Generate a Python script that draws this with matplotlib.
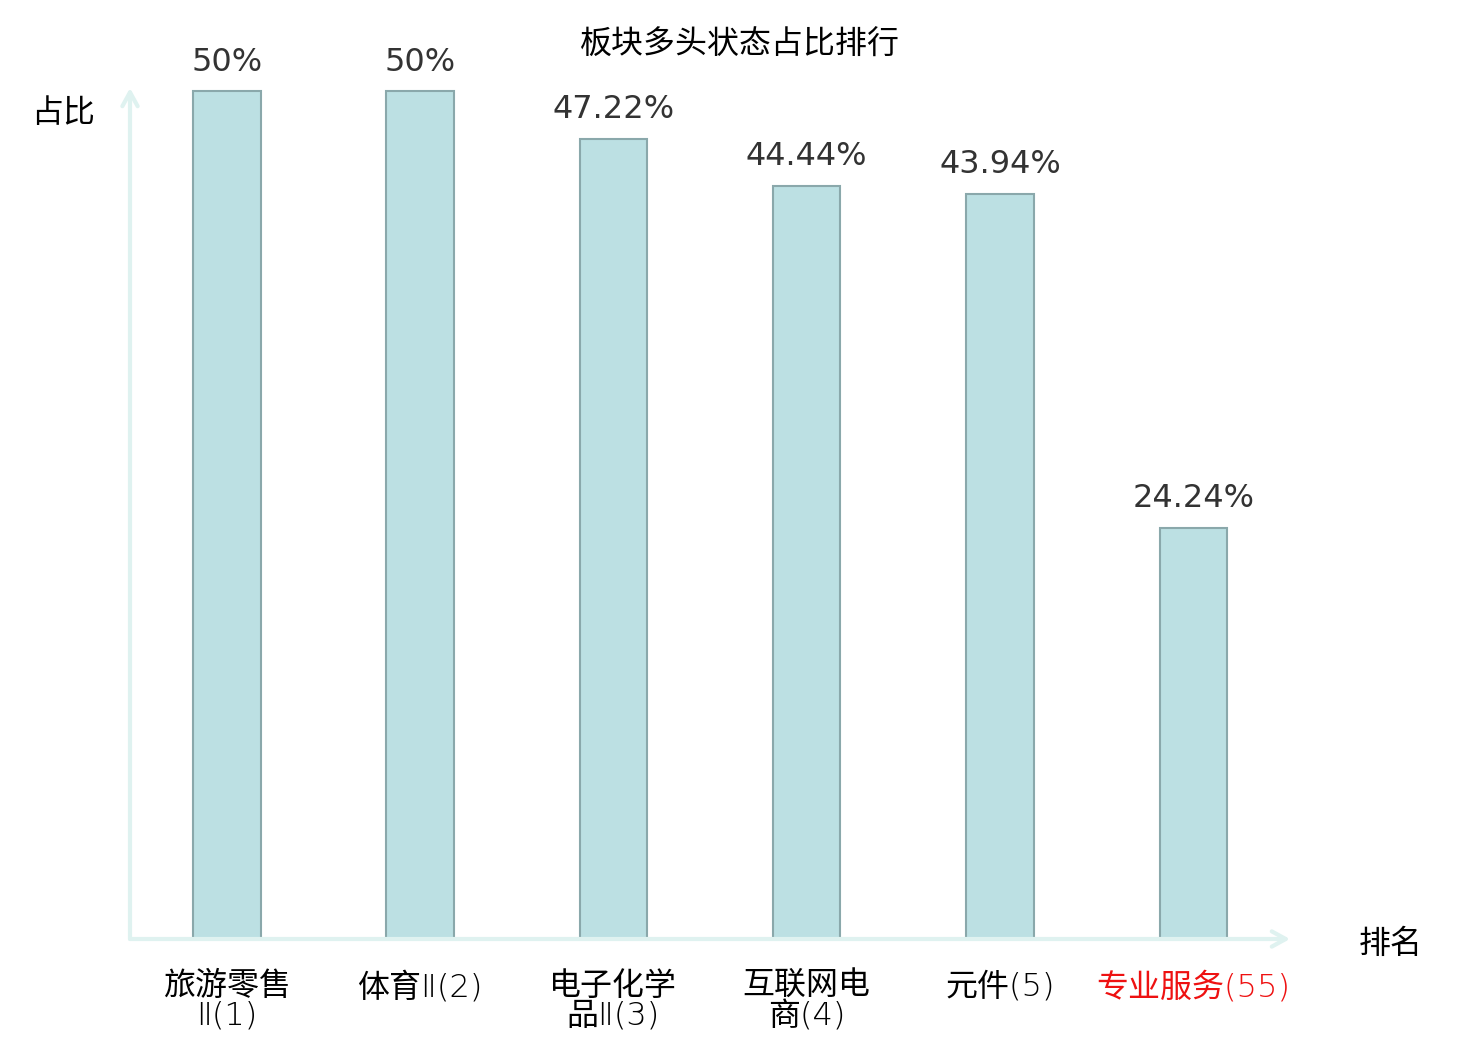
import matplotlib.pyplot as plt

plt.rcParams['font.family'] = ['Noto Sans CJK SC', 'DejaVu Sans']

# 数据
labels = ['旅游零售\nⅡ(1)', '体育Ⅱ(2)', '电子化学\n品Ⅱ(3)', '互联网电\n商(4)', '元件(5)', '专业服务(55)']
values = [50, 50, 47.22, 44.44, 43.94, 24.24]
value_text = ['50%', '50%', '47.22%', '44.44%', '43.94%', '24.24%']
label_colors = ['black', 'black', 'black', 'black', 'black', '#ee1111']

fig = plt.figure(figsize=(14.8, 10.4), dpi=100)
ax = fig.add_axes([130 / 1480, 101 / 1040, 1160 / 1480, 851 / 1040])

x = range(len(values))
ax.bar(x, values, width=0.35, color='#bce0e3', edgecolor='#8aa8ab', linewidth=1.5, zorder=3)

ax.set_xlim(-0.5, 5.5)
ax.set_ylim(0, 50.2)

for i, v in enumerate(values):
    ax.annotate(value_text[i], (i, v), xytext=(0, 10), textcoords='offset points',
                ha='center', va='bottom', fontsize=23, color='#333333', family='DejaVu Sans')

for i, lab in enumerate(labels):
    ax.text(i, -0.037, lab, transform=ax.get_xaxis_transform(), ha='center', va='top',
            fontsize=23, color=label_colors[i], linespacing=1.0,
            family=['DejaVu Sans', 'Noto Sans CJK SC'], fontweight='light')

# 坐标轴箭头
for s in ax.spines.values():
    s.set_visible(False)
ax.set_xticks([])
ax.set_yticks([])
arrow = dict(arrowstyle='->,head_length=1.0,head_width=0.55', color='#dff2f0', lw=3,
             shrinkA=0, shrinkB=0)
ax.annotate('', xy=(1, 0), xytext=(0, 0), xycoords='axes fraction', arrowprops=arrow)
ax.annotate('', xy=(0, 1), xytext=(0, 0), xycoords='axes fraction', arrowprops=arrow)

fig.text(63 / 1480, 1 - 113 / 1040, '占比', ha='center', va='center', fontsize=23)
fig.text(1391 / 1480, 1 - 944 / 1040, '排名', ha='center', va='center', fontsize=23)
fig.text(740 / 1480, 1 - 45 / 1040, '板块多头状态占比排行', ha='center', va='center', fontsize=23)

fig.savefig('out.png', dpi=100)
